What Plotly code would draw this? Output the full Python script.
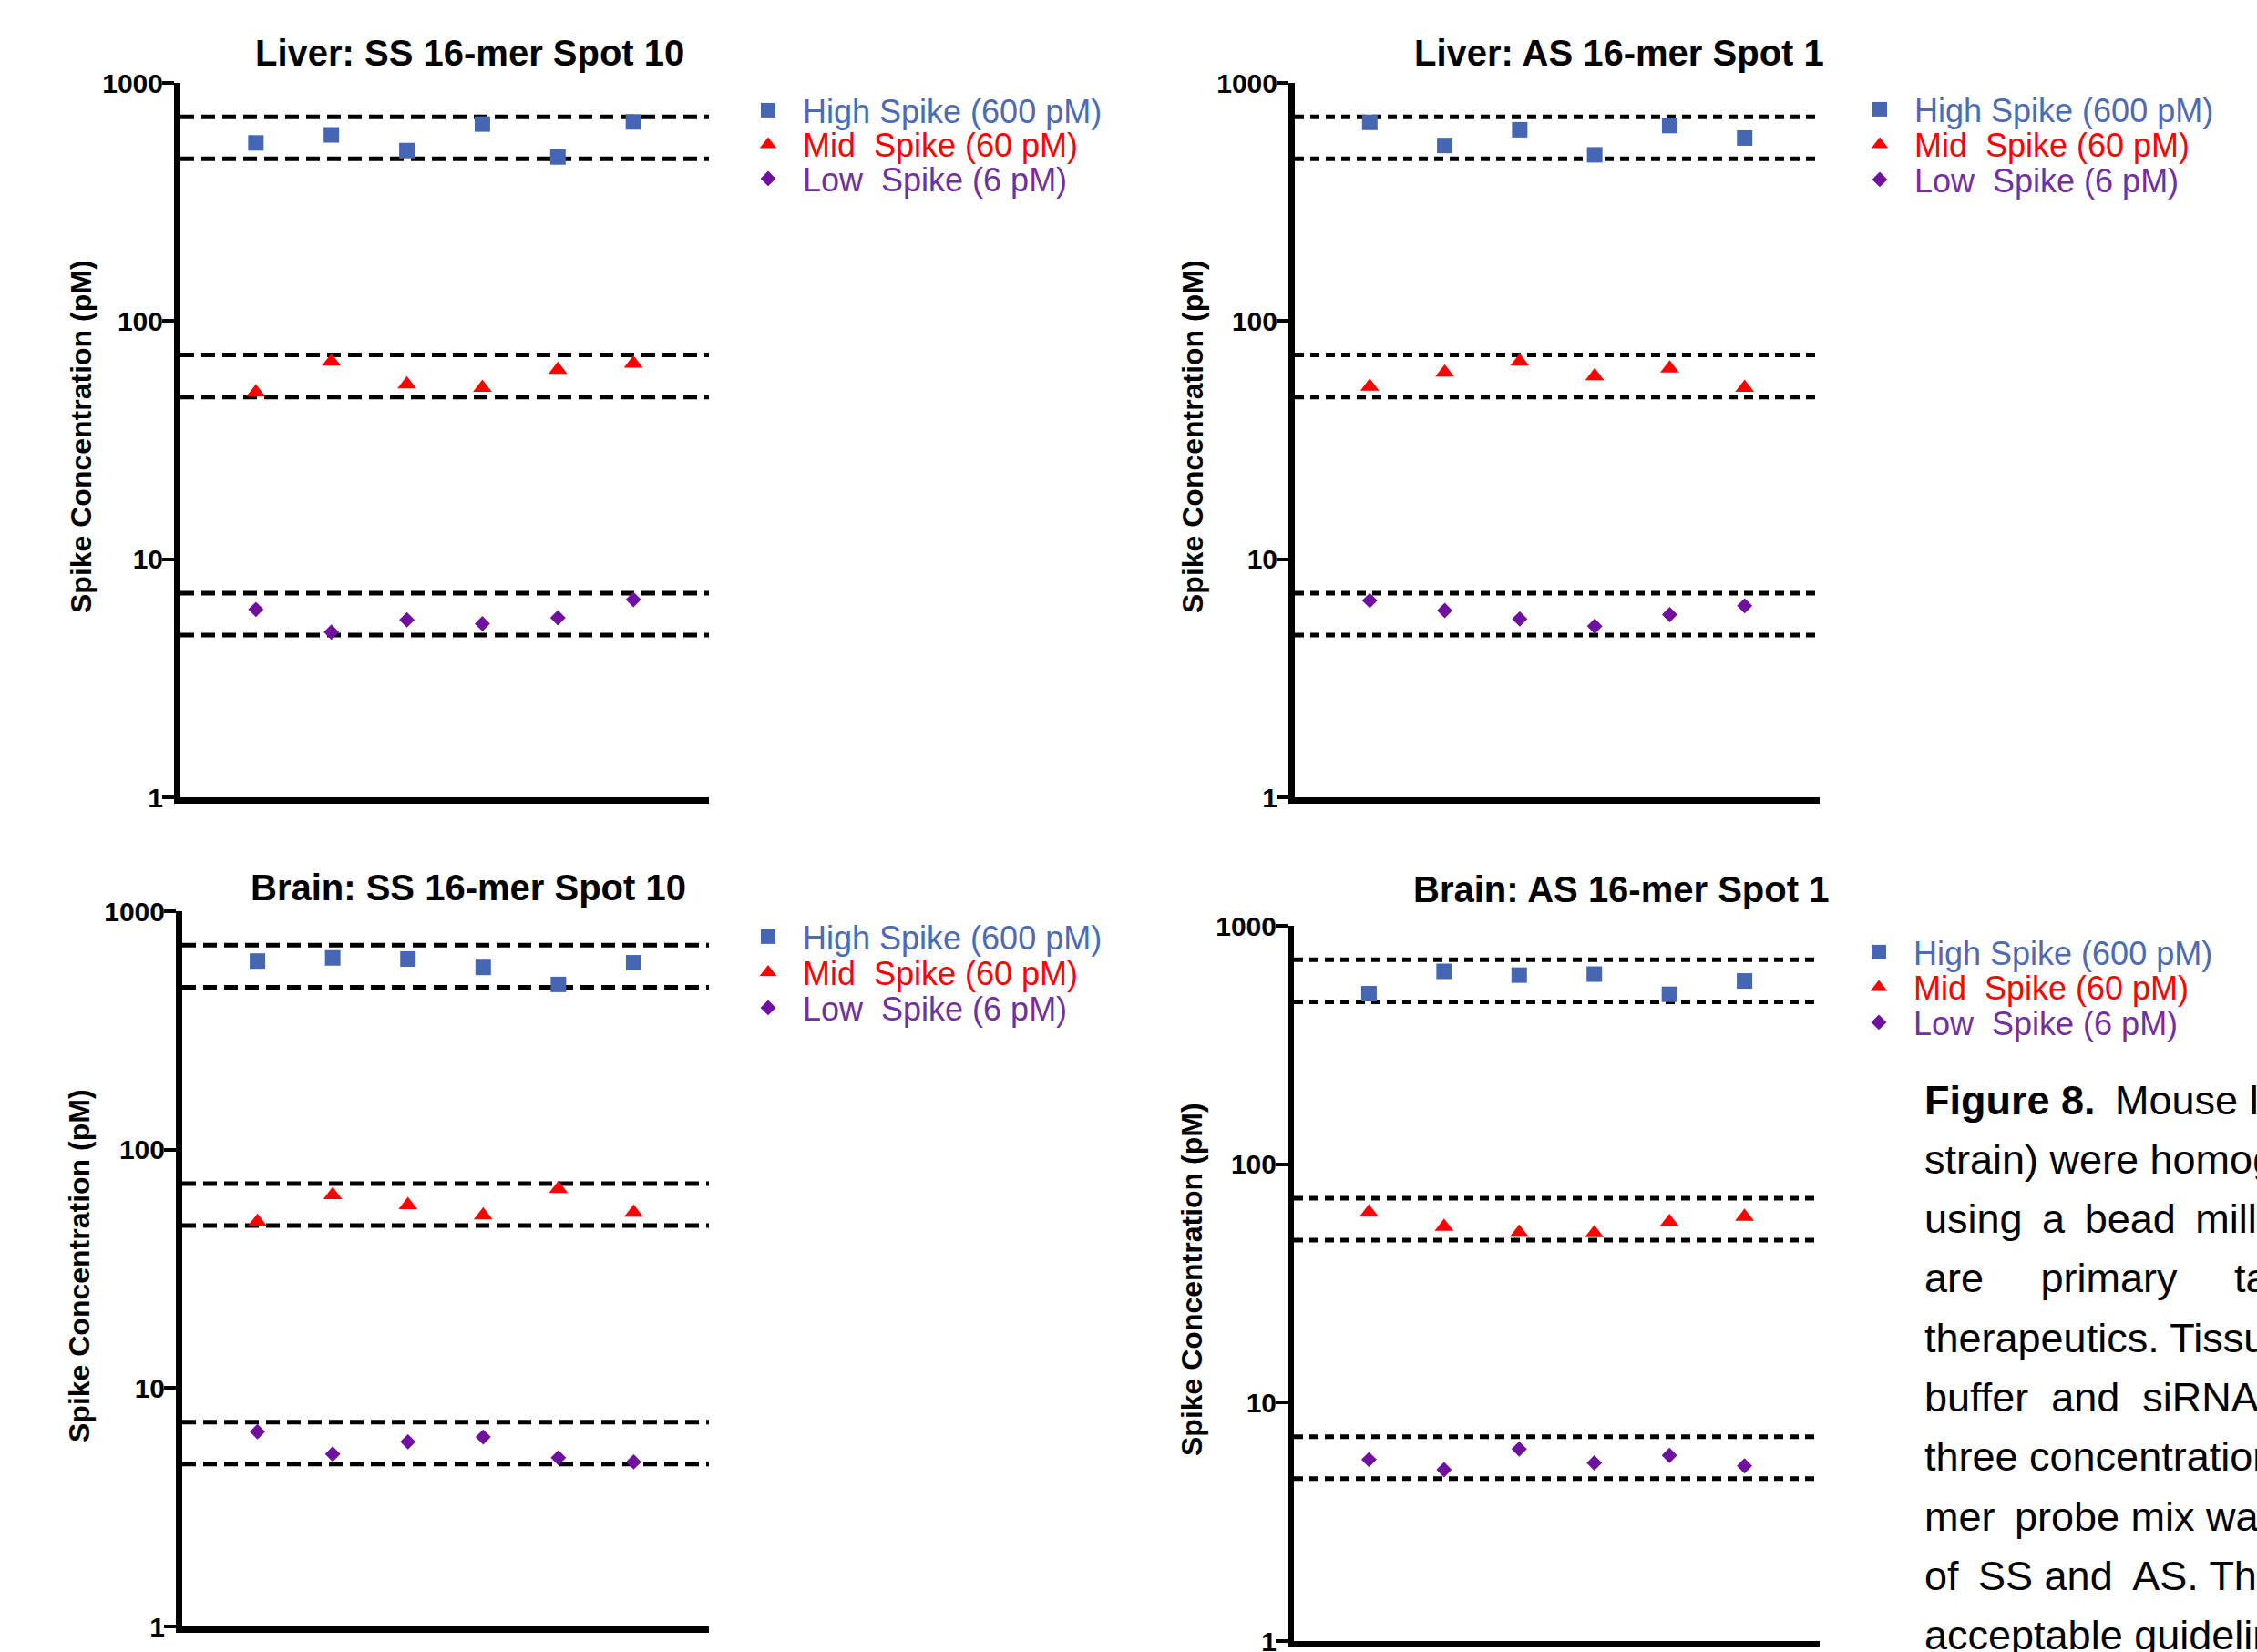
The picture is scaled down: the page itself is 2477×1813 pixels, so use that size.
import plotly.graph_objects as go

# ---------------- data ----------------
replicates = [1, 2, 3, 4, 5, 6]

panel_titles = [
    "Liver: SS 16-mer Spot 10",
    "Liver: AS 16-mer Spot 1",
    "Brain: SS 16-mer Spot 10",
    "Brain: AS 16-mer Spot 1",
]

liver_ss_high = [560, 605, 520, 672, 489, 686]
liver_ss_mid = [50.2, 67.6, 54.2, 52.5, 62.4, 66.3]
liver_ss_low = [6.15, 4.94, 5.56, 5.36, 5.67, 6.77]

liver_as_high = [683, 546, 636, 499, 662, 587]
liver_as_mid = [53.1, 60.8, 67.6, 58.7, 63.3, 52.5]
liver_as_low = [6.70, 6.09, 5.61, 5.23, 5.85, 6.37]

brain_ss_high = [618, 637, 630, 581, 493, 608]
brain_ss_mid = [49.9, 64.5, 58.5, 53.0, 68.5, 54.4]
brain_ss_low = [6.56, 5.29, 5.95, 6.23, 5.10, 4.90]

brain_as_high = [519, 644, 621, 627, 516, 587]
brain_as_mid = [62.8, 54.7, 51.7, 51.4, 57.3, 60.3]
brain_as_low = [5.77, 5.23, 6.39, 5.59, 6.01, 5.43]

acceptance_limits = [720, 480, 72, 48, 7.2, 4.8]

series_names = ["High Spike (600 pM)", "Mid\u00a0 Spike (60 pM)", "Low\u00a0 Spike (6 pM)"]
y_tick_vals = [1, 10, 100, 1000]
y_tick_text = ["1", "10", "100", "1000"]
y_title = "Spike Concentration (pM)"

G = "\u00a0\u2009"  # slightly widened (justified) word gap
caption_lines = [
    "<b>Figure 8.</b>" + G + "Mouse l",
    "strain) were homog",
    "using" + G + "a" + G + "bead" + G + "mill",
    "are\u00a0\u00a0\u00a0\u00a0\u00a0primary\u00a0\u00a0\u00a0\u00a0\u00a0ta",
    "therapeutics. Tissu",
    "buffer\u00a0\u00a0and\u00a0\u00a0siRNA",
    "three concentration",
    "mer" + G + "probe mix wa",
    "of" + G + "SS and" + G + "AS. Th",
    "acceptable guidelin",
]

panels_data = [
    (liver_ss_high, liver_ss_mid, liver_ss_low),
    (liver_as_high, liver_as_mid, liver_as_low),
    (brain_ss_high, brain_ss_mid, brain_ss_low),
    (brain_as_high, brain_as_mid, brain_as_low),
]

# ---------------- styling / layout ----------------
W, H = 2477, 1813
FONT = "Liberation Sans, Arial, sans-serif"

marker_colors = ["#4466B3", "#FF0000", "#7010A0"]
text_colors = ["#4D6AB5", "#FF0000", "#7030A0"]
marker_symbols = ["square", "triangle-up", "diamond"]
marker_sizes = [17, 18, 13]


def px_x(v):
    return v / W


def px_y(v):
    return 1 - v / H


# pixel geometry of each panel: (x_left, x_right, y_top(1000), y_bottom(1))
panel_px = [
    (198, 778, 91, 875),
    (1421, 1997, 91, 875),
    (200, 778, 1000, 1785),
    (1420, 1997, 1016, 1801),
]
title_px = [(515, 58), (1777, 58), (514, 974), (1779, 976)]
ytitle_px = [(89, 479), (1309, 479), (87, 1389), (1308, 1404)]
legend_px = [  # (symbol center x, first row y, row spacing)
    (843, 121, 37.5),
    (2063, 120, 38.5),
    (843, 1028, 39),
    (2062, 1045, 38.5),
]
dash_styles = ["15px,8px", "10px,7px", "15px,8px", "10px,7px"]
ITEMW = 66  # legend symbol sits at itemwidth/2+5, text at itemwidth+10

fig = go.Figure()
layout = dict(
    width=W, height=H,
    margin=dict(l=0, r=0, t=0, b=0, pad=0, autoexpand=False),
    paper_bgcolor="white", plot_bgcolor="white",
    font=dict(family=FONT, color="black"),
    annotations=[],
)

for p in range(4):
    xa = "x" if p == 0 else f"x{p+1}"
    ya = "y" if p == 0 else f"y{p+1}"
    xl, xr, yt, yb = panel_px[p]
    layout["xaxis" if p == 0 else f"xaxis{p+1}"] = dict(
        domain=[px_x(xl), px_x(xr)], range=[0, 7], anchor=ya,
        showline=True, linecolor="black", linewidth=7,
        showticklabels=False, ticks="", showgrid=False, zeroline=False,
        automargin=False,
    )
    layout["yaxis" if p == 0 else f"yaxis{p+1}"] = dict(
        domain=[px_y(yb), px_y(yt)], type="log", range=[0, 3], anchor=xa,
        showline=True, linecolor="black", linewidth=7,
        ticks="outside", ticklen=13, tickwidth=4, tickcolor="black",
        tickvals=y_tick_vals, ticktext=y_tick_text,
        tickfont=dict(family=FONT, size=30, color="black", weight="bold"),
        ticklabelstandoff=-7, ticklabeloverflow="allow",
        showgrid=False, zeroline=False, automargin=False,
    )
    # acceptance (±20%) dashed lines
    for lim in acceptance_limits:
        fig.add_trace(go.Scatter(
            x=[0, 7], y=[lim, lim], mode="lines", xaxis=xa, yaxis=ya,
            line=dict(color="black", width=5, dash=dash_styles[p]),
            showlegend=False, hoverinfo="skip",
        ))
    # data series
    lx, ly, dy = legend_px[p]
    for s in range(3):
        lg_id = p * 3 + s + 1
        lg_key = "legend" if lg_id == 1 else f"legend{lg_id}"
        fig.add_trace(go.Scatter(
            x=replicates, y=panels_data[p][s], mode="markers",
            xaxis=xa, yaxis=ya, name=series_names[s],
            marker=dict(symbol=marker_symbols[s], size=marker_sizes[s],
                        color=marker_colors[s], line=dict(width=0)),
            legend=lg_key, showlegend=True, cliponaxis=False,
        ))
        layout[lg_key] = dict(
            x=px_x(lx - (ITEMW / 2 + 5)), y=px_y(ly + s * dy),
            xanchor="left", yanchor="middle",
            bgcolor="rgba(0,0,0,0)", borderwidth=0,
            font=dict(family=FONT, size=36, color=text_colors[s]),
            itemwidth=ITEMW,
        )
    # panel title
    tx, ty = title_px[p]
    layout["annotations"].append(dict(
        text=f"<b>{panel_titles[p]}</b>", x=px_x(tx), y=px_y(ty),
        xref="paper", yref="paper", xanchor="center", yanchor="middle",
        showarrow=False, font=dict(family=FONT, size=40, color="black"),
    ))
    # y-axis title
    yx, yy = ytitle_px[p]
    layout["annotations"].append(dict(
        text=f"<b>{y_title}</b>", x=px_x(yx), y=px_y(yy),
        xref="paper", yref="paper", xanchor="center", yanchor="middle",
        textangle=-90, showarrow=False,
        font=dict(family=FONT, size=32, color="black"),
    ))

# caption text (the source figure is cropped through this paragraph)
for i, line in enumerate(caption_lines):
    layout["annotations"].append(dict(
        text=line, x=px_x(2110), y=px_y(1207 + i * 65.3),
        xref="paper", yref="paper", xanchor="left", yanchor="middle",
        align="left", showarrow=False,
        font=dict(family=FONT, size=45, color="black"),
    ))

fig.update_layout(**layout)
fig.write_html("out.html")
